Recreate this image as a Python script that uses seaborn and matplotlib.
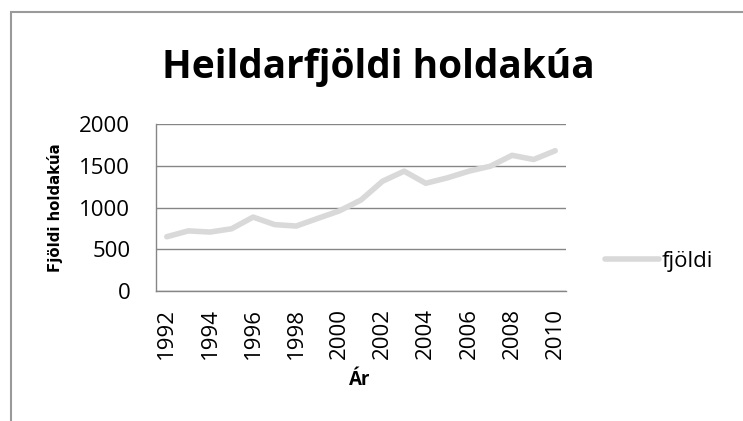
import matplotlib
matplotlib.use("Agg")
import matplotlib.pyplot as plt
import seaborn as sns
import pandas as pd
import numpy as np

# Gögn lesin af myndinni
ar = [1992, 1993, 1994, 1995, 1996, 1997, 1998, 1999, 2000, 2001,
      2002, 2003, 2004, 2005, 2006, 2007, 2008, 2009, 2010]
fjoldi = [650, 720, 706, 745, 885, 795, 778, 870, 960, 1090,
          1315, 1435, 1290, 1355, 1435, 1495, 1625, 1575, 1680]
merki_ar = [1992, 1994, 1996, 1998, 2000, 2002, 2004, 2006, 2008, 2010]
merki_y = [0, 500, 1000, 1500, 2000]

df = pd.DataFrame({"Ár": ar, "fjöldi": fjoldi})

sns.set_style("white")
plt.rcParams["font.family"] = ["Open Sans", "DejaVu Sans"]
plt.rcParams["text.color"] = "black"
plt.rcParams["xtick.color"] = "black"
plt.rcParams["ytick.color"] = "black"

fig = plt.figure(figsize=(7.43, 4.21), dpi=100)
ax = fig.add_axes([156 / 743, 1 - 291 / 421, 410 / 743, 167 / 421])

sns.lineplot(data=df, x="Ár", y="fjöldi", ax=ax, color="#d9d9d9",
             linewidth=4, solid_capstyle="round", label="fjöldi", legend=False)

ax.set_xlim(ar[0] - 0.5, ar[-1] + 0.5)
ax.set_ylim(0, 2000)
ax.set_yticks(merki_y)
ax.set_yticklabels([str(v) for v in merki_y], fontsize=16)
ax.set_xticks(merki_ar)
ax.set_xticklabels([str(v) for v in merki_ar], rotation=90, fontsize=16)
ax.set_xticks(np.array(merki_ar) - 0.5, minor=True)
ax.tick_params(axis="x", which="major", length=0, pad=12)
ax.tick_params(axis="x", which="minor", length=5, width=1, color="#868686")
ax.tick_params(axis="y", length=6.5, width=1, color="#868686", pad=12)
for t in ax.get_yticklabels() + ax.get_xticklabels():
    t.set_color("black")

ax.yaxis.grid(True, color="#868686", linewidth=1)
ax.xaxis.grid(False)
for s in ["top", "right"]:
    ax.spines[s].set_visible(False)
for s in ["left", "bottom"]:
    ax.spines[s].set_color("#868686")
    ax.spines[s].set_linewidth(1)

ax.set_xlabel("")
ax.set_ylabel("")
fig.text(360 / 743, 1 - 380 / 421, "Ár", ha="center", va="center",
         fontsize=13.5, fontweight="bold")
fig.text(55 / 743, 1 - 208 / 421, "Fjöldi holdakúa", ha="center", va="center",
         rotation=90, fontsize=10.7, fontweight="bold", family="DejaVu Sans")

fig.text(378 / 743, 1 - 78 / 421, "Heildarfjöldi holdakúa", ha="center",
         va="baseline", fontsize=28, fontweight="bold")

handles, labels = ax.get_legend_handles_labels()
fig.legend(handles, labels, loc="center left",
           bbox_to_anchor=(605 / 743, 1 - 261 / 421), frameon=False,
           fontsize=16, handlelength=2.45, handletextpad=0.12,
           borderpad=0, borderaxespad=0)

# ramminn utan um myndina
fig.patches.append(plt.Rectangle((11 / 743, -0.1), 1.2, 1 - 12 / 421 + 0.1,
                                 transform=fig.transFigure, fill=False,
                                 edgecolor="#9a9a9a", linewidth=1.5))

fig.savefig("out.png", dpi=100, facecolor="white")
